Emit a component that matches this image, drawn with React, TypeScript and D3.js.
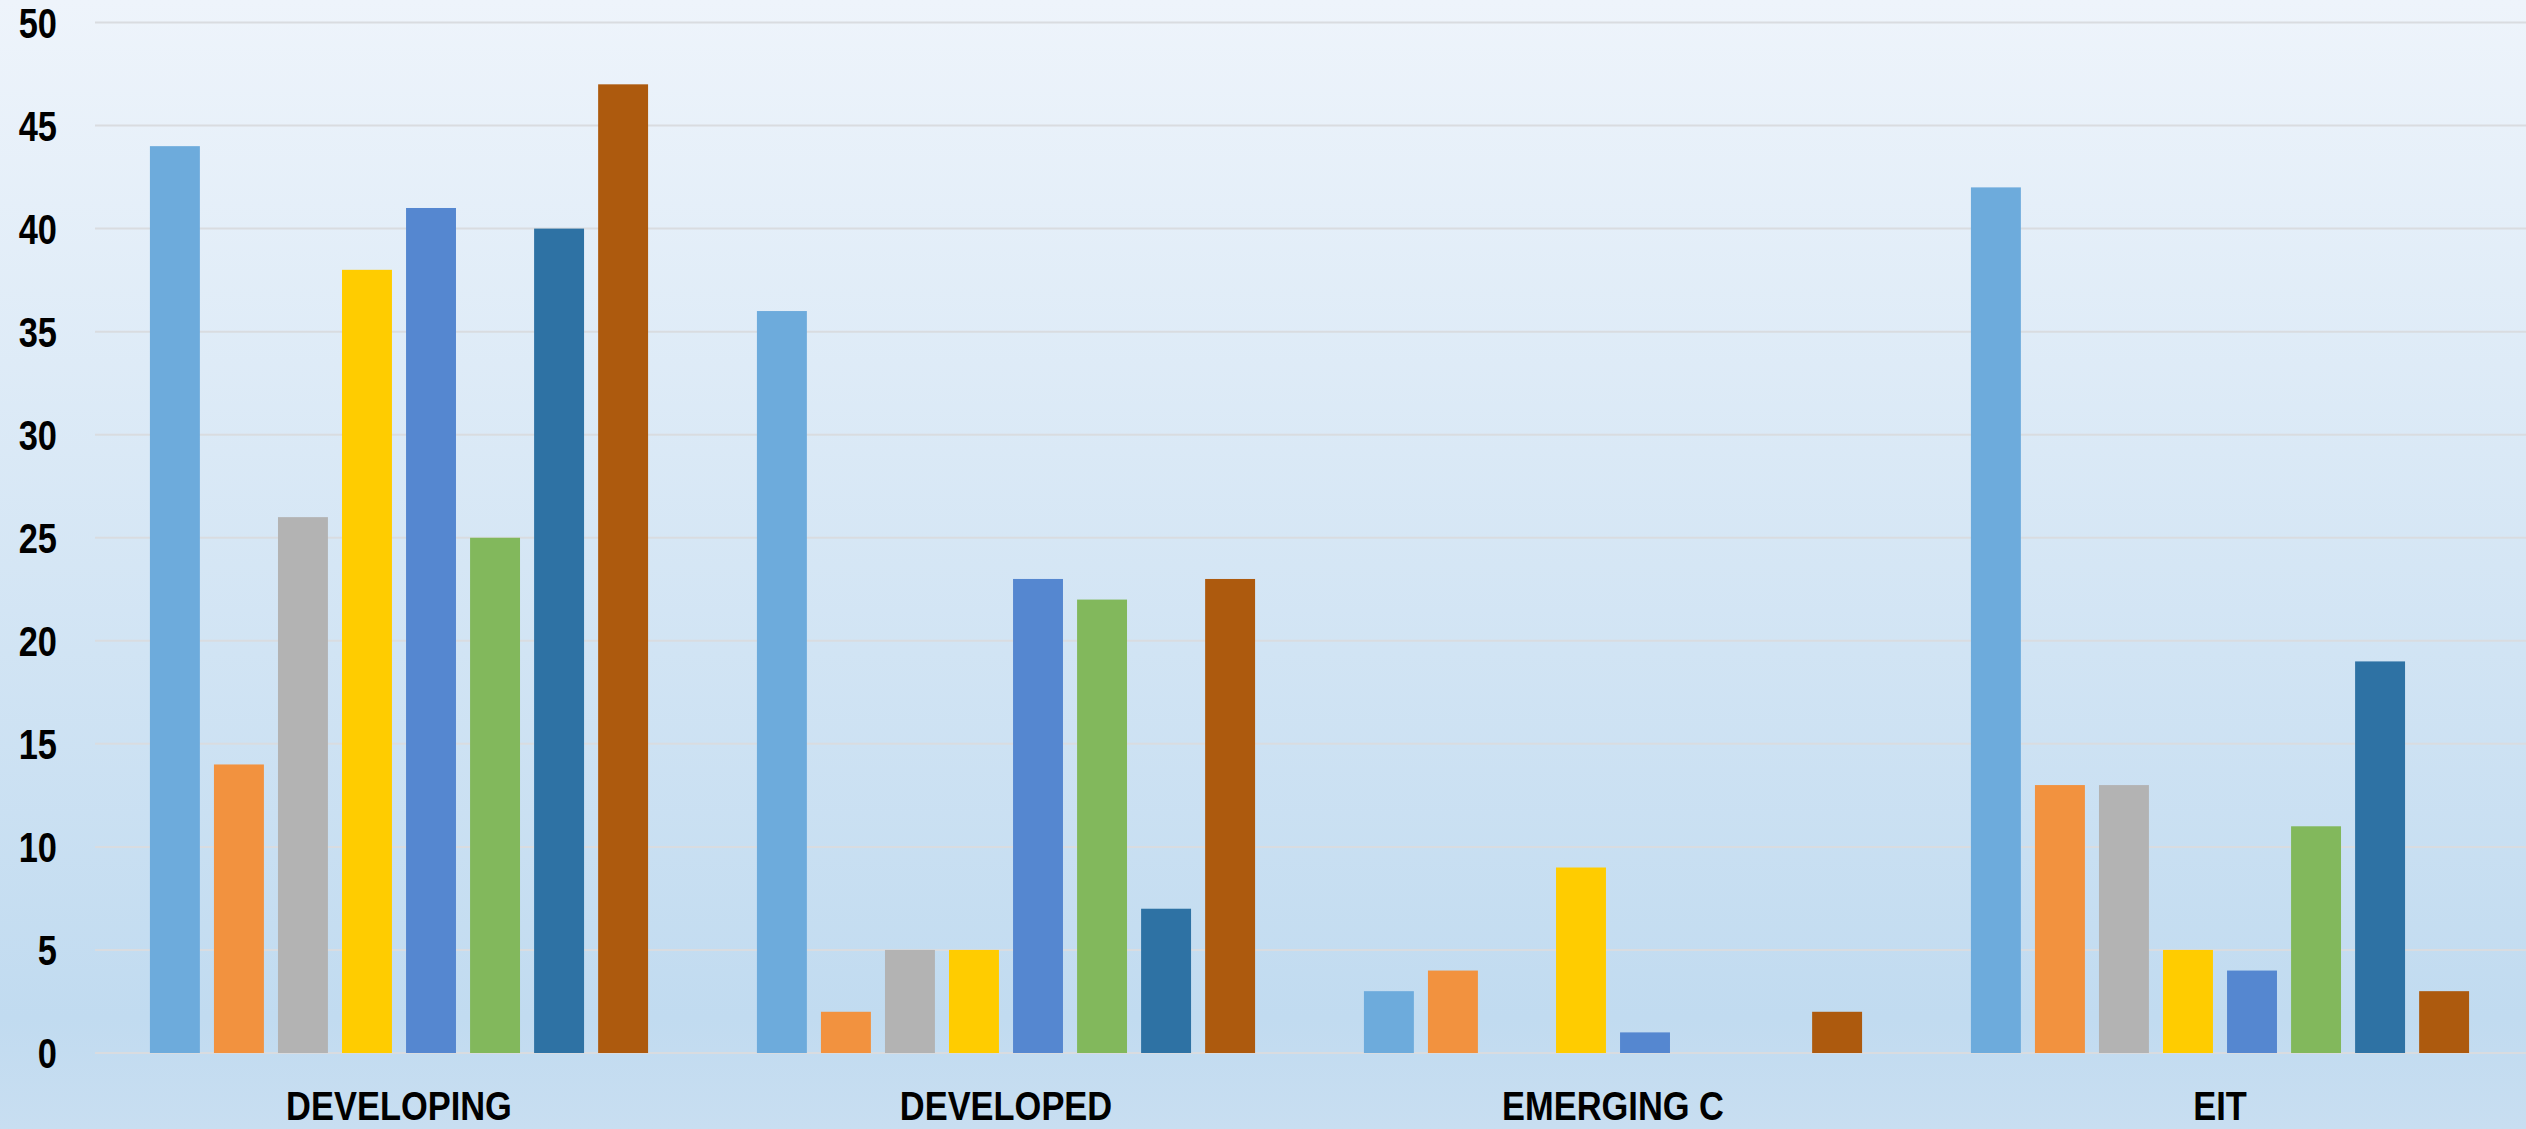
import React from 'react';
import * as d3 from 'd3';

const categories = ['DEVELOPING', 'DEVELOPED', 'EMERGING C', 'EIT'];
const seriesNames = ['S1', 'S2', 'S3', 'S4', 'S5', 'S6', 'S7', 'S8'];
const seriesColors = ['#6DABDC', '#F2923F', '#B3B3B3', '#FFCC00', '#5587D0', '#82B85C', '#2E72A4', '#AD5A0E'];

// one array per category, in series order
const developing = [44, 14, 26, 38, 41, 25, 40, 47];
const developed = [36, 2, 5, 5, 23, 22, 7, 23];
const emerging = [3, 4, 0, 9, 1, 0, 0, 2];
const eit = [42, 13, 13, 5, 4, 11, 19, 3];
const values = [developing, developed, emerging, eit];

const yTicks = [0, 5, 10, 15, 20, 25, 30, 35, 40, 45, 50];

const W = 2526;
const H = 1129;
// no narrow font installed, so squeeze Liberation Sans horizontally
const font = '"Liberation Sans", Arial, sans-serif';

export default function App() {
  const x0 = d3.scaleBand().domain(categories).range([95.5, 2523.5]).padding(0);
  const x1 = d3.scaleBand()
    .domain(seriesNames)
    .range([0, x0.bandwidth()])
    .paddingInner(0.22)
    .paddingOuter(0.85);
  const y = d3.scaleLinear().domain([0, 50]).range([1053, 22.5]);

  return (
    <svg width={W} height={H} style={{ position: 'absolute', left: 0, top: 0, display: 'block' }}>
      <defs>
        <linearGradient id="bg" x1="0" y1="0" x2="0" y2="1">
          <stop offset="0" stopColor="#EEF4FB" />
          <stop offset="0.9" stopColor="#C1DBF0" />
          <stop offset="1" stopColor="#C8DEF1" />
        </linearGradient>
      </defs>
      <rect x={0} y={0} width={W} height={H} fill="url(#bg)" />

      {/* gridlines */}
      {yTicks.map(t => (
        <line key={t} x1={95} x2={W} y1={y(t)} y2={y(t)} stroke="#D9DCE0" strokeWidth={2} />
      ))}

      {/* y tick labels */}
      {yTicks.map(t => (
        <text
          key={'l' + t}
          transform={`translate(57,${y(t)}) scale(0.8,1)`}
          dy="0.36em"
          textAnchor="end"
          fontFamily={font}
          fontWeight="bold"
          fontSize={43}
          fill="#000"
        >
          {t}
        </text>
      ))}

      {/* bars */}
      {categories.map((c, ci) => (
        <g key={c} transform={`translate(${x0(c)},0)`}>
          {values[ci].map((v, si) =>
            v > 0 ? (
              <rect
                key={si}
                x={x1(seriesNames[si])}
                y={y(v)}
                width={x1.bandwidth()}
                height={y(0) - y(v)}
                fill={seriesColors[si]}
              />
            ) : null
          )}
        </g>
      ))}

      {/* category labels */}
      {categories.map(c => (
        <text
          key={'c' + c}
          transform={`translate(${(x0(c) as number) + x0.bandwidth() / 2},1120) scale(0.84,1)`}
          textAnchor="middle"
          fontFamily={font}
          fontWeight="bold"
          fontSize={41}
          fill="#000"
        >
          {c}
        </text>
      ))}
    </svg>
  );
}
